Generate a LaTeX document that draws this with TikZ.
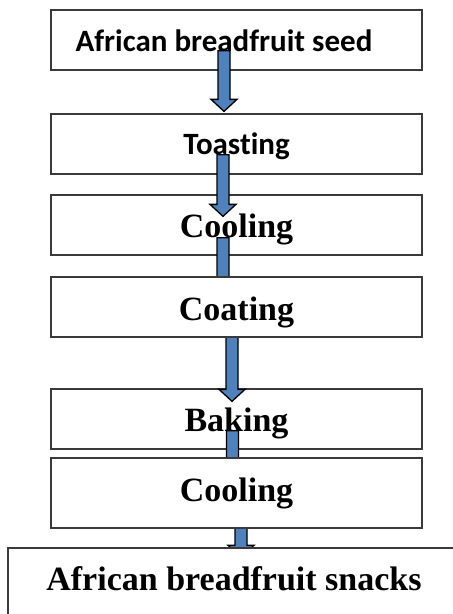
\documentclass[tikz,border=0pt]{standalone}
\usepackage{fontspec}
\setmainfont{Liberation Serif}
\newfontfamily\calib[Ligatures={NoCommon,NoRare,NoContextual}]{Carlito}
\usetikzlibrary{calc}
\pgfdeclarelayer{fg}
\pgfsetlayers{main,fg}
\definecolor{arrblue}{HTML}{4F81BD}
\definecolor{boxline}{HTML}{3A3A3A}
\tikzset{
  stepbox/.style={draw=boxline, fill=white, line width=1.3pt, minimum width=371pt,
    minimum height=60pt, inner sep=0pt, text depth=0pt, font=\fontsize{34}{36}\selectfont\bfseries},
  calibbox/.style={stepbox, font=\fontsize{31}{33}\selectfont\calib\bfseries},
  barrow/.style={draw=black, fill=arrblue, line width=1.3pt, line join=miter}
}
\newcommand\blockarr[2]{%
  \draw[barrow] let \p1=(#1), \p2=(#2) in
   (\x1-6pt,\y1) -- (\x1+6pt,\y1) -- (\x1+6pt,\y2+12pt) -- (\x1+13pt,\y2+12pt)
   -- (\x1,\y2) -- (\x1-13pt,\y2+12pt) -- (\x1-6pt,\y2+12pt) -- cycle;}
\begin{document}
\begin{tikzpicture}[x=1pt,y=-1pt]
\clip (0,0) rectangle (453,614);
\fill[white] (0,0) rectangle (453,614);
% boxes under the arrows
\node[calibbox, text height=22pt] (seed) at (236.5,40) {African breadfruit seed\hspace*{25pt}};
\node[calibbox, text height=20pt] (toast) at (236.5,144) {Toasting};
\node[stepbox, text height=24pt] (cool1) at (236.5,225) {Cooling};
\node[stepbox, text height=24pt] (bake) at (236.5,419) {Baking};
% boxes over the arrows
\begin{pgfonlayer}{fg}
\node[stepbox, text height=26pt] (coat) at (236.5,307) {Coating};
\node[stepbox, minimum height=70pt, text height=16pt] (cool2) at (236.5,493) {Cooling};
\node[stepbox, minimum width=472pt, minimum height=112pt, text height=0pt, text depth=28pt] (snack) at (244,604) {African breadfruit snacks\hspace*{20pt}};
\end{pgfonlayer}
% connectors
\coordinate (a1s) at ($(seed.south)+(-12.5pt,20pt)$);
\coordinate (a1e) at ($(toast.north)+(0pt,2pt)$);
\blockarr{a1s}{a1e}
\coordinate (a2s) at ($(toast.south)+(-13.5pt,20pt)$);
\coordinate (a2e) at ($(cool1.north)+(0pt,-22pt)$);
\blockarr{a2s}{a2e}
\coordinate (a3s) at ($(cool1.south)+(-13.5pt,18pt)$);
\coordinate (a3e) at ($(coat.north)+(0pt,-14pt)$);
\blockarr{a3s}{a3e}
\coordinate (a4s) at ($(coat.south)+(-4.5pt,2pt)$);
\coordinate (a4e) at ($(bake.north)+(0pt,-13pt)$);
\blockarr{a4s}{a4e}
\coordinate (a5s) at ($(bake.south)+(-4pt,19pt)$);
\coordinate (a5e) at ($(cool2.north)+(0pt,-14pt)$);
\blockarr{a5s}{a5e}
\coordinate (a6s) at ($(cool2.south)+(4.5pt,19pt)$);
\coordinate (a6e) at ($(snack.north)+(0pt,-10pt)$);
\blockarr{a6s}{a6e}
\end{tikzpicture}
\end{document}
